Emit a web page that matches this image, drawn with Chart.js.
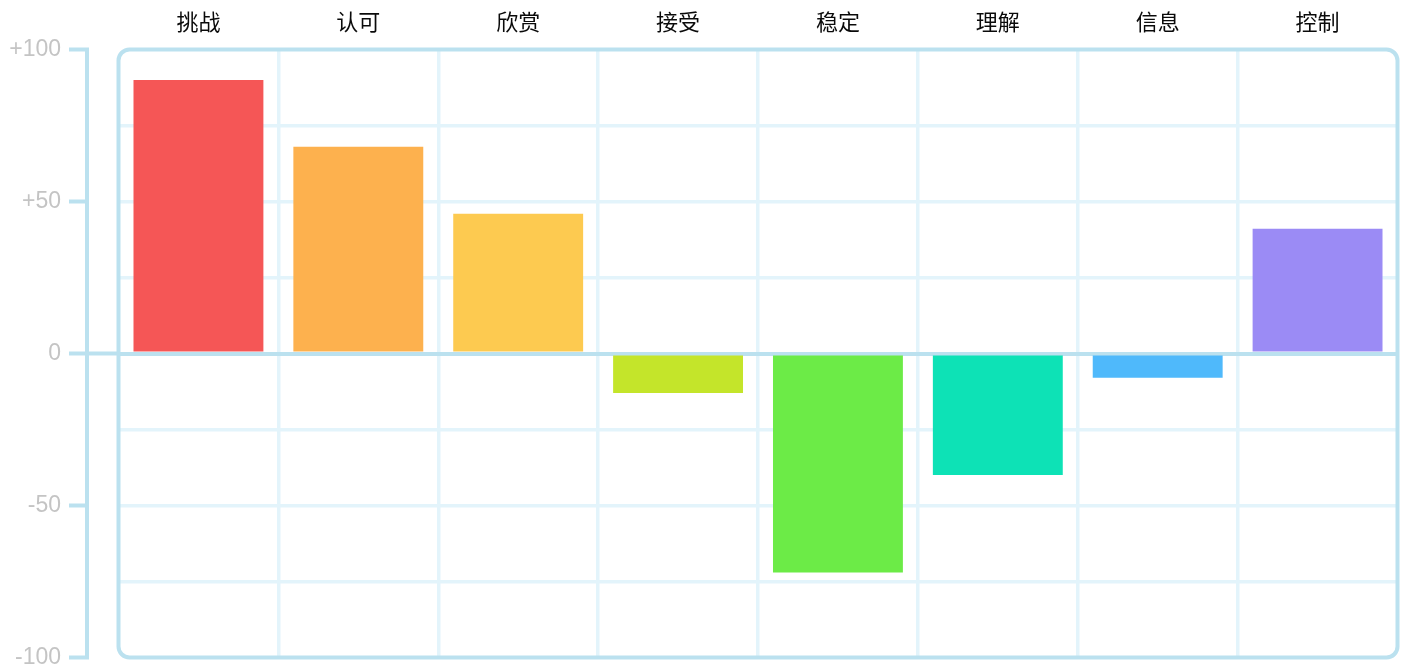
<!DOCTYPE html>
<html>
<head>
<meta charset="utf-8">
<script src="https://cdn.jsdelivr.net/npm/chart.js@4"></script>
<style>
html, body { margin: 0; padding: 0; background: #fff; overflow: hidden; }
canvas { display: block; }
</style>
</head>
<body>
<canvas id="chart" width="1405" height="671"></canvas>
<script>
// ===========================================
// DATA
// ===========================================

const categories = ["挑战", "认可", "欣赏", "接受", "稳定", "理解", "信息", "控制"];
const values = [90, 68, 46, -13, -72, -40, -8, 41];
const barColors = ["#f55656", "#fdb14e", "#fdca50", "#c4e52a", "#6ceb47", "#0de2b6", "#4fb9fb", "#9b8bf5"];
const yTicks = [100, 50, 0, -50, -100];

const AXIS_BLUE = "#bbe1ef";
const GRID_BLUE = "#e3f4fb";

// ===========================================
// FRAME PLUGIN (rounded border, side axis, zero line stub)
// ===========================================

const frame = {
    id: "frame",
    afterDraw(chart) {
        const ctx = chart.ctx;
        const a = chart.chartArea;
        const y = chart.scales.y;
        const axisX = a.left - 31.5;
        const tickX = a.left - 49.5;
        const top = y.getPixelForValue(100);
        const bottom = y.getPixelForValue(-100);

        ctx.save();
        ctx.strokeStyle = AXIS_BLUE;
        ctx.lineWidth = 4;

        // rounded plot border
        const r = 11;
        ctx.beginPath();
        ctx.moveTo(a.left + r, a.top);
        ctx.arcTo(a.right, a.top, a.right, a.bottom, r);
        ctx.arcTo(a.right, a.bottom, a.left, a.bottom, r);
        ctx.arcTo(a.left, a.bottom, a.left, a.top, r);
        ctx.arcTo(a.left, a.top, a.right, a.top, r);
        ctx.closePath();
        ctx.stroke();

        // left axis with end caps
        ctx.beginPath();
        ctx.moveTo(tickX, top);
        ctx.lineTo(axisX, top);
        ctx.lineTo(axisX, bottom);
        ctx.lineTo(tickX, bottom);
        ctx.stroke();

        // middle ticks
        yTicks.forEach(v => {
            if (v === 100 || v === -100) return;
            const py = y.getPixelForValue(v);
            ctx.beginPath();
            ctx.moveTo(tickX, py);
            ctx.lineTo(v === 0 ? a.left : axisX, py);
            ctx.stroke();
        });

        ctx.restore();
    }
};

// ===========================================
// CHART
// ===========================================

new Chart(document.getElementById("chart"), {
    type: "bar",
    data: {
        labels: categories,
        datasets: [{
            data: values,
            backgroundColor: barColors,
            borderWidth: 0,
            barPercentage: 0.8125,
            categoryPercentage: 1
        }]
    },
    options: {
        responsive: false,
        animation: false,
        layout: {
            padding: { left: 0, top: 0, right: 7.5, bottom: 13.5 }
        },
        plugins: {
            legend: { display: false },
            tooltip: { enabled: false }
        },
        scales: {
            x: {
                position: "top",
                afterFit: s => {
                    s.height = 49.5;
                    s.paddingLeft = 0;
                    s.paddingRight = 0;
                },
                border: { display: false },
                grid: {
                    offset: true,
                    drawTicks: false,
                    lineWidth: 3.5,
                    color: c => (c.type !== "tick" || c.index === 0) ? "rgba(0,0,0,0)" : GRID_BLUE
                },
                ticks: {
                    padding: 14.5,
                    color: "#0a0a0a",
                    font: { family: "'Noto Sans CJK SC'", size: 22 }
                }
            },
            y: {
                min: -100,
                max: 100,
                afterFit: s => {
                    s.width = 118.5;
                    s.paddingTop = 0;
                    s.paddingBottom = 0;
                },
                border: { display: false },
                grid: {
                    drawTicks: false,
                    lineWidth: c => c.tick && c.tick.value === 0 ? 4 : 3.5,
                    color: c => {
                        const v = c.tick ? c.tick.value : null;
                        if (v === 100 || v === -100) return "rgba(0,0,0,0)";
                        return v === 0 ? AXIS_BLUE : GRID_BLUE;
                    }
                },
                ticks: {
                    stepSize: 25,
                    padding: 57.5,
                    color: "#c4c4c4",
                    font: { family: "'Liberation Sans'", size: 23 },
                    callback: v => yTicks.includes(v) ? (v > 0 ? "+" + v : String(v)) : ""
                }
            }
        }
    },
    plugins: [frame]
});
</script>
</body>
</html>
